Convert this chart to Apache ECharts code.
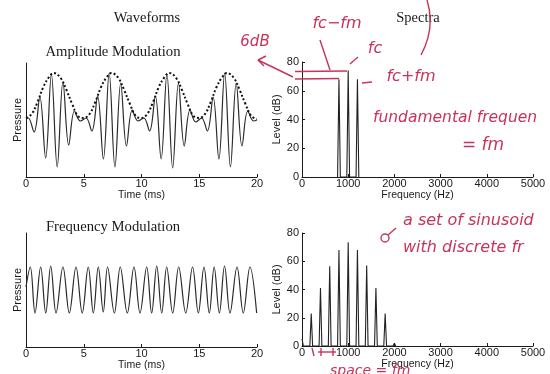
<!DOCTYPE html>
<html><head><meta charset="utf-8">
<script src="https://cdn.jsdelivr.net/npm/echarts@6/dist/echarts.min.js"></script>
<style>html,body{margin:0;padding:0;background:#fff}#c{width:550px;height:374px}</style>
</head><body><div id="c"></div>
<script>
// ---- Amplitude modulation waveform (extrema) ----
var amTime = [0, 0.2,0.7,1.2,1.7,2.2,2.7,3.2,3.7,4.2,4.7,
  5.2,5.7,6.2,6.7,7.2,7.7,8.2,8.7,9.2,9.7,
  10.2,10.7,11.2,11.7,12.2,12.7,13.2,13.7,14.2,14.7,
  15.2,15.7,16.2,16.7,17.2,17.7,18.2,18.7,19.2,19.7, 20];
var amPressure = [1, 2,-12,23,-38,46,-47,38,-25,9,-1,
  2,-11,24,-39,47,-47,37,-26,10,-1,
  2,-11,24,-39,46,-48,37,-26,10,-2,
  2,-11,23,-39,47,-47,37,-26,9,-1, 0];
// dotted envelope
var envTime = [0,0.5,1,1.5,2,2.4,3,3.5,4,4.5,
  5,5.5,6,6.5,7,7.4,8,8.5,9,9.5,
  10,10.5,11,11.5,12,12.4,13,13.5,14,14.5,
  15,15.5,16,16.5,17,17.4,18,18.5,19,19.5,20];
var envLevel = [2,6,18,33,43,47,42,30,16,4,
  2,6,18,33,43,47,42,30,16,4,
  2,6,18,33,43,47,42,30,16,4,
  2,6,18,33,43,47,42,30,16,4,1];
// ---- Frequency modulation waveform ----
var fmTime = [0,0.37,0.78,1.27,1.71,2.14,2.60,3.20,3.75,4.33,4.87,
  5.39,5.83,6.26,6.69,7.06,7.65,8.16,8.77,9.35,9.87,
  10.45,10.88,11.32,11.75,12.18,12.70,13.22,13.83,14.42,14.92,
  15.41,15.87,16.29,16.74,17.19,17.66,18.27,18.81,19.39,19.97];
var fmPressure = [3,23,-23,23,-23,24,-23,23,-23,23,-23,
  23,-23,23,-22,23,-23,23,-23,23,-23,
  23,-23,24,-23,23,-23,23,-23,23,-23,
  23,-23,23,-23,24,-23,23,-23,23,-23];
// ---- Spectra ----
var amFreq = [800, 1000, 1200];
var amLevel = [68, 74, 68];
var fmFreq = [0,200,400,600,800,1000,1200,1400,1600,1800,2000];
var fmLevel = [5,23,41,56.5,68,73.5,68,57,41,23,2];
var timeTicks = [0,5,10,15,20];
var freqTicks = [0,1000,2000,3000,4000,5000];
var levelTicks = [0,20,40,60,80];

function pairs(a,b){return a.map(function(v,i){return [v,b[i]];});}
function spikes(fr,lv,hw){
  var p=[];
  fr.forEach(function(f,i){
    if(f-hw>=0) p.push([f-hw,0]);
    p.push([f,lv[i]]);
    p.push([f+hw,0]);
  });
  return p;
}
var ink='#1a1a1a', red='#c9335a';
var lab={fontFamily:'Liberation Sans',fontSize:11,color:ink,formatter:function(v){return String(v);}};
function xAx(idx,ticks,name){
  return {gridIndex:idx,type:'value',min:ticks[0],max:ticks[ticks.length-1],
    interval:ticks[1]-ticks[0],name:name,nameLocation:'middle',nameGap:8,
    nameTextStyle:{fontFamily:'Liberation Sans',fontSize:10.5,color:ink},
    axisLine:{onZero:false,lineStyle:{color:ink,width:1}},
    axisTick:{inside:true,length:3,lineStyle:{color:ink}},
    axisLabel:Object.assign({margin:1},lab),splitLine:{show:false}};
}
function yPress(idx){
  return {gridIndex:idx,type:'value',min:-57,max:57,name:'Pressure',nameLocation:'middle',nameGap:3,
    nameTextStyle:{fontFamily:'Liberation Sans',fontSize:11,color:ink},
    axisLine:{onZero:false,lineStyle:{color:ink,width:1}},axisTick:{show:false},axisLabel:{show:false},splitLine:{show:false}};
}
function yLev(idx){
  return {gridIndex:idx,type:'value',min:levelTicks[0],max:levelTicks[levelTicks.length-1],interval:levelTicks[1]-levelTicks[0],
    name:'Level (dB)',nameLocation:'middle',nameGap:17,
    nameTextStyle:{fontFamily:'Liberation Sans',fontSize:11,color:ink},
    axisLine:{onZero:false,lineStyle:{color:ink,width:1}},axisTick:{inside:true,length:3,lineStyle:{color:ink}},
    axisLabel:Object.assign({margin:3},lab),splitLine:{show:false}};
}
function txt(t,x,y,size,opt){
  opt=opt||{};
  return {type:'text',x:x,y:y,style:{text:t,fill:opt.fill||ink,
    font:(opt.style||'normal')+' '+size+'px '+(opt.family||'"Liberation Serif"'),
    textAlign:opt.align||'center',textVerticalAlign:'middle'},z:10};
}
function ln(x1,y1,x2,y2,w){
  return {type:'line',shape:{x1:x1,y1:y1,x2:x2,y2:y2},style:{stroke:red,lineWidth:w||1.4},z:10};
}
var hand={fill:red,style:'italic',family:'"DejaVu Sans"'};
function handL(){return Object.assign({align:'left'},hand);}
var chart=echarts.init(document.getElementById('c'));
chart.setOption({
  animation:false,backgroundColor:'#fff',
  grid:[{left:26,right:293,top:63,bottom:197},{left:302,right:17,top:62,bottom:197},
        {left:26,right:293,top:233,bottom:27},{left:302,right:17,top:233,bottom:28}],
  xAxis:[xAx(0,timeTicks,'Time (ms)'),xAx(1,freqTicks,'Frequency (Hz)'),
         xAx(2,timeTicks,'Time (ms)'),xAx(3,freqTicks,'Frequency (Hz)')],
  yAxis:[yPress(0),yLev(1),yPress(2),yLev(3)],
  series:[
    {type:'line',xAxisIndex:0,yAxisIndex:0,data:pairs(amTime,amPressure),smooth:0.38,showSymbol:false,
      lineStyle:{color:'#2a2a2a',width:1.2}},
    {type:'line',xAxisIndex:0,yAxisIndex:0,data:pairs(envTime,envLevel),smooth:0.4,showSymbol:false,
      lineStyle:{color:'#111',width:2,type:[2,2.2]}},
    {type:'line',xAxisIndex:1,yAxisIndex:1,data:spikes(amFreq,amLevel,30),showSymbol:false,
      lineStyle:{color:'#222',width:1.1}},
    {type:'line',xAxisIndex:2,yAxisIndex:2,data:pairs(fmTime,fmPressure),smooth:0.38,showSymbol:false,
      lineStyle:{color:'#2a2a2a',width:1.2}},
    {type:'line',xAxisIndex:3,yAxisIndex:3,data:spikes(fmFreq,fmLevel,30),showSymbol:false,
      lineStyle:{color:'#222',width:1.1}}
  ],
  graphic:[
    txt('Waveforms',147,18,14.5),
    txt('Spectra',418,18,14.5),
    txt('Amplitude Modulation',113,52,14.7),
    txt('Frequency Modulation',113,227,14.7),
    // handwritten red notes
    txt('6dB',255,42,15,hand),
    txt('fc\u2212fm',337,24,16,hand),
    txt('fc',375,49,16,hand),
    txt('fc+fm',411,77,16,hand),
    txt('fundamental frequen',373,118,15.5,handL()),
    txt('= fm',483,146,17,hand),
    txt('a set of sinusoid',403,221,16,handL()),
    txt('with discrete fr',403,248,16,handL()),
    txt('space = fm',330,371,14,handL()),
    ln(258,60,293,77), ln(258,60,266,56), ln(258,60,264,66),
    ln(320,40,330,70),
    ln(295,71.5,347,71), ln(295,79,339,78.5),
    ln(350,64,358,57), ln(362,83,372,82),
    {type:'bezierCurve',shape:{x1:427,y1:0,x2:421,y2:55,cpx1:434,cpy1:22,cpx2:429,cpy2:40},style:{stroke:red,lineWidth:1.4,fill:null},z:10},
    {type:'circle',shape:{cx:385,cy:238,r:4},style:{stroke:red,lineWidth:1.4,fill:null},z:10},
    ln(388,235,396,228),
    ln(312,348,314,356), ln(318,352,336,352), ln(321,348,321,356), ln(333,348,333,356)
  ]
});
</script></body></html>
